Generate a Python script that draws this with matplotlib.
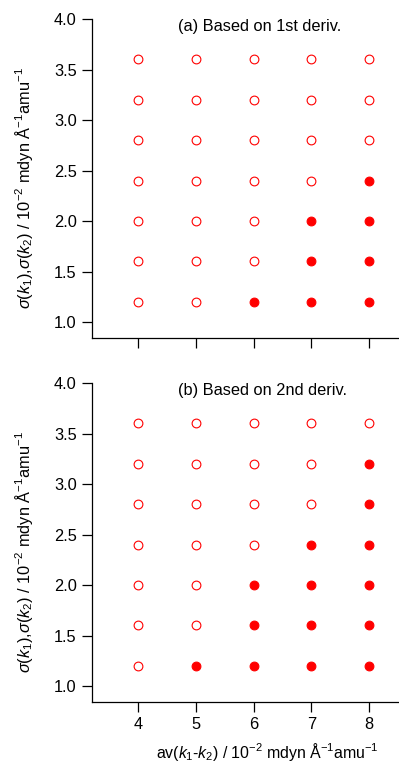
import matplotlib
matplotlib.use('Agg')
import matplotlib.pyplot as plt
import numpy as np

plt.rcParams['font.family'] = ['Liberation Sans', 'DejaVu Sans']
plt.rcParams['mathtext.fontset'] = 'custom'
plt.rcParams['mathtext.rm'] = 'Liberation Sans'
plt.rcParams['mathtext.it'] = 'Liberation Sans:italic'

# grid of tested parameter values
av_vals = [4, 5, 6, 7, 8]
sigma_vals = [1.2, 1.6, 2.0, 2.4, 2.8, 3.2, 3.6]

# filled (accepted) points, as (av, sigma)
filled_a = [(6, 1.2), (7, 1.2), (8, 1.2), (7, 1.6), (8, 1.6),
            (7, 2.0), (8, 2.0), (8, 2.4)]
filled_b = [(5, 1.2), (6, 1.2), (7, 1.2), (8, 1.2),
            (6, 1.6), (7, 1.6), (8, 1.6),
            (6, 2.0), (7, 2.0), (8, 2.0),
            (7, 2.4), (8, 2.4), (8, 2.8), (8, 3.2)]

titles = ['(a) Based on 1st deriv.', '(b) Based on 2nd deriv.']
ylabel = r'$\sigma(\mathit{k}_1){,}\sigma(\mathit{k}_2)$ / 10$^{-2}$ mdyn Å$^{-1}$amu$^{-1}$'
xlabel = r'av($\mathit{k}_1$-$\mathit{k}_2$) / 10$^{-2}$ mdyn Å$^{-1}$amu$^{-1}$'

W, H = 399, 764
fs = 11.8
fig = plt.figure(figsize=(W / 100, H / 100), dpi=100)

# axes boxes in pixels: left, top, right, bottom
boxes = [(92, 19, 399, 338), (92, 383, 399, 702)]

for i, (box, filled, title) in enumerate(zip(boxes, [filled_a, filled_b], titles)):
    l, t, r, b = box
    ax = fig.add_axes([l / W, 1 - b / H, (r - l) / W, (b - t) / H])
    filled_set = set(filled)
    ox, oy, fx, fy = [], [], [], []
    for x in av_vals:
        for y in sigma_vals:
            if (x, y) in filled_set:
                fx.append(x); fy.append(y)
            else:
                ox.append(x); oy.append(y)
    ax.plot(ox, oy, 'o', ms=6.3, mfc='white', mec='red', mew=0.8, ls='none')
    ax.plot(fx, fy, 'o', ms=6.3, mfc='red', mec='red', mew=0.8, ls='none')

    ax.set_xlim(3.2, 8.52)
    ax.set_ylim(0.842, 4.0)
    ax.set_xticks(av_vals)
    ax.set_yticks([1.0, 1.5, 2.0, 2.5, 3.0, 3.5, 4.0])
    ax.yaxis.set_major_formatter(matplotlib.ticker.FormatStrFormatter('%.1f'))
    for s in ['top', 'right']:
        ax.spines[s].set_visible(False)
    for s in ['left', 'bottom']:
        ax.spines[s].set_linewidth(0.9)
    ax.tick_params(direction='out', length=7, width=0.9, labelsize=fs, pad=4)
    if i == 0:
        ax.tick_params(axis='x', labelbottom=False)
    else:
        ax.set_xlabel(xlabel, fontsize=11.4)
        ax.xaxis.set_label_coords(0.57, -0.122)
        ax.xaxis.label.set_va('top')
    ax.set_ylabel(ylabel, fontsize=fs)
    ax.yaxis.set_label_coords(-0.186, 0.47)
    ax.text(0.28, 0.975, title, transform=ax.transAxes, fontsize=fs,
            ha='left', va='center')

plt.savefig('out.png', dpi=100)
